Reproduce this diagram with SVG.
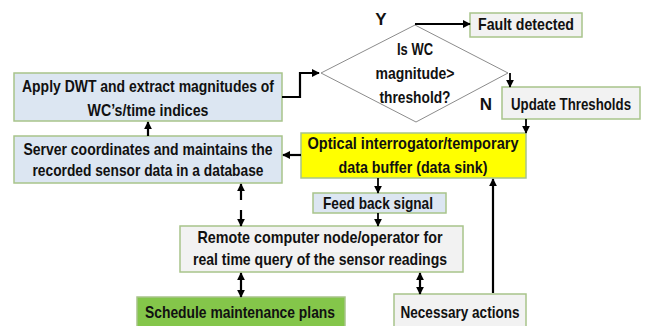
<svg xmlns="http://www.w3.org/2000/svg" width="646" height="326" viewBox="0 0 646 326">
<defs>
<marker id="ah" viewBox="0 0 10 10" refX="9" refY="5" markerWidth="8" markerHeight="8" markerUnits="userSpaceOnUse" orient="auto-start-reverse">
<path d="M0,0 L10,5 L0,10 z" fill="#000"/>
</marker>
<style>
.box{stroke:#a8c48a;stroke-width:1.5}
.blue{fill:#dce6f2}
.gray{fill:#f2f2f2}
.yel{fill:#ffff00}
.grn{fill:#84c64a}
.t{font-family:"Liberation Sans",Arial,sans-serif;font-weight:bold;font-size:17px;fill:#111;text-anchor:middle}
.c{fill:none;stroke:#000;stroke-width:2.2}
</style>
</defs>
<rect width="646" height="326" fill="#fff"/>
<g id="dwt">
<rect class="box blue" x="14" y="73" width="268" height="48"/>
<text class="t" x="148" y="92" textLength="252" lengthAdjust="spacingAndGlyphs">Apply DWT and extract magnitudes of</text>
<text class="t" x="148" y="116" textLength="121" lengthAdjust="spacingAndGlyphs">WC’s/time indices</text>
</g>
<g id="server">
<rect class="box blue" x="14" y="136" width="268" height="47"/>
<text class="t" x="148" y="155" textLength="249" lengthAdjust="spacingAndGlyphs">Server coordinates and maintains the</text>
<text class="t" x="148" y="176" textLength="231" lengthAdjust="spacingAndGlyphs">recorded sensor data in a database</text>
</g>
<g id="decision">
<polygon points="321,73 415,25 508,73 416,122" fill="#fff" stroke="#8c8c8c" stroke-width="1"/>
<text class="t" x="415" y="55" textLength="36" lengthAdjust="spacingAndGlyphs">Is WC</text>
<text class="t" x="415" y="79" textLength="79" lengthAdjust="spacingAndGlyphs">magnitude&gt;</text>
<text class="t" x="415" y="103" textLength="71" lengthAdjust="spacingAndGlyphs">threshold?</text>
</g>
<g id="labelY"><text class="t" x="381" y="25">Y</text></g>
<g id="labelN"><text class="t" x="486" y="110">N</text></g>
<g id="fault">
<rect class="box gray" x="470" y="13" width="112" height="24"/>
<text class="t" x="526" y="30" textLength="96" lengthAdjust="spacingAndGlyphs">Fault detected</text>
</g>
<g id="update">
<rect class="box gray" x="502" y="87" width="138" height="32"/>
<text class="t" x="571" y="110" font-size="16" textLength="120" lengthAdjust="spacingAndGlyphs" style="font-size:16px">Update Thresholds</text>
</g>
<g id="sink">
<rect class="box yel" x="301" y="133" width="225" height="45"/>
<text class="t" x="413" y="149" textLength="211" lengthAdjust="spacingAndGlyphs">Optical interrogator/temporary</text>
<text class="t" x="413" y="173" textLength="149" lengthAdjust="spacingAndGlyphs">data buffer (data sink)</text>
</g>
<g id="feedback">
<rect class="box blue" x="313" y="193" width="133" height="20"/>
<text class="t" x="378" y="209" textLength="110" lengthAdjust="spacingAndGlyphs">Feed back signal</text>
</g>
<g id="remote">
<rect class="box gray" x="180" y="226" width="283" height="46"/>
<text class="t" x="320" y="243" textLength="245" lengthAdjust="spacingAndGlyphs">Remote computer node/operator for</text>
<text class="t" x="320" y="265" textLength="254" lengthAdjust="spacingAndGlyphs">real time query of the sensor readings</text>
</g>
<g id="schedule">
<rect class="box grn" x="137" y="297" width="208" height="31"/>
<text class="t" x="240" y="318" textLength="190" lengthAdjust="spacingAndGlyphs">Schedule maintenance plans</text>
</g>
<g id="actions">
<rect class="box gray" x="394" y="294" width="132" height="34"/>
<text class="t" x="460" y="318" textLength="119" lengthAdjust="spacingAndGlyphs">Necessary actions</text>
</g>
<g id="connectors">
<path class="c" d="M148,136 V122" marker-end="url(#ah)"/>
<path class="c" d="M282,97 H300 V73 H319" marker-end="url(#ah)"/>
<path class="c" d="M415,24 H470" marker-end="url(#ah)"/>
<path class="c" d="M510,73 V87" marker-end="url(#ah)" style="stroke-width:1.8"/>
<path class="c" d="M526,119 V133" marker-end="url(#ah)" style="stroke-width:1.8"/>
<path class="c" d="M301,155 H283" marker-end="url(#ah)"/>
<path class="c" d="M378,178 V193" marker-end="url(#ah)" style="stroke-width:1.8"/>
<path class="c" d="M378,213 V226" marker-end="url(#ah)" style="stroke-width:1.8"/>
<path class="c" d="M241,200 V184" marker-end="url(#ah)"/>
<path class="c" d="M241,210 V226" marker-end="url(#ah)"/>
<path class="c" d="M241,273 V297" marker-start="url(#ah)" marker-end="url(#ah)"/>
<path class="c" d="M420,273 V294" marker-start="url(#ah)" marker-end="url(#ah)"/>
<path class="c" d="M493,293 V179" marker-end="url(#ah)"/>
</g>
</svg>
